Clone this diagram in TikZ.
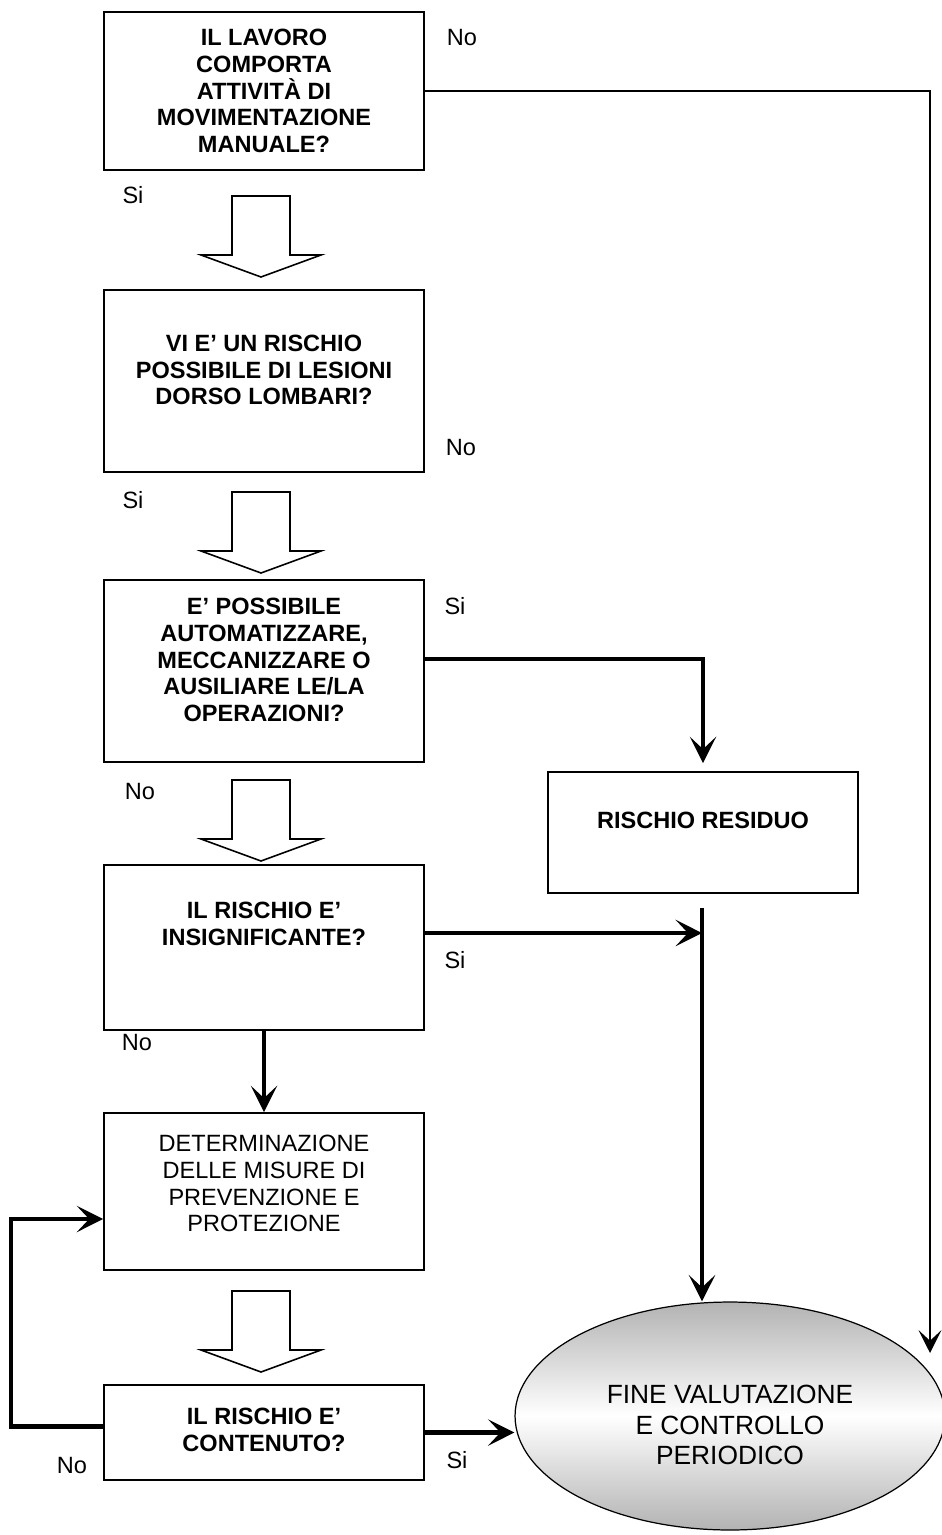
\documentclass[tikz,border=0pt]{standalone}
\usepackage{fontspec}
\setmainfont{Liberation Sans}
\usetikzlibrary{arrows.meta,shapes.geometric}

\tikzset{
	box/.style={draw, line width=1pt, minimum width=6.4cm, inner sep=0pt},
	qtext/.style={align=center, font=\fontsize{13.4}{15.3}\selectfont\bfseries},
	ptext/.style={align=center, font=\fontsize{13.4}{15.3}\selectfont},
	answer/.style={font=\fontsize{13.4}{15.3}\selectfont},
	flow/.style={line width=2.6pt, -{Stealth[length=15pt,width=15pt,inset=7pt]}},
	thinflow/.style={line width=1.3pt, -{Stealth[length=13pt,width=13pt,inset=6pt]}},
	blockarrow/.pic={
		\draw[line width=0.9pt, fill=white] (-29,0) -- (29,0) -- (29,59) -- (60,59)
			-- (0,81) -- (-60,59) -- (-29,59) -- cycle;
	}
}

\begin{document}
\begin{tikzpicture}[x=0.02cm, y=-0.02cm]
	\useasboundingbox (0,0) rectangle (942,1535);

	% domande
	\node[box, minimum height=3.16cm] (lavoro) at (264,91) {};
	\node[qtext] (lavoro-txt) at (lavoro.center) {IL LAVORO\\COMPORTA\\ATTIVITÀ DI\\MOVIMENTAZIONE\\MANUALE?};

	\node[box, minimum height=3.64cm] (lesioni) at (264,381) {};
	\node[qtext] (lesioni-txt) at ([yshift=0.22cm]lesioni.center) {VI E’ UN RISCHIO\\POSSIBILE DI LESIONI\\DORSO LOMBARI?};

	\node[box, minimum height=3.64cm] (automatizzare) at (264,671) {};
	\node[qtext] (automatizzare-txt) at ([yshift=0.22cm]automatizzare.center) {E’ POSSIBILE\\AUTOMATIZZARE,\\MECCANIZZARE O\\AUSILIARE LE/LA\\OPERAZIONI?};

	\node[box, minimum width=6.2cm, minimum height=2.42cm] (residuo) at (703,832.5) {};
	\node[qtext] (residuo-txt) at ([yshift=0.25cm]residuo.center) {RISCHIO RESIDUO};

	\node[box, minimum height=3.3cm] (insignificante) at (264,947.5) {};
	\node[qtext] (insignificante-txt) at ([yshift=0.48cm]insignificante.center) {IL RISCHIO E’\\INSIGNIFICANTE?};

	\node[box, minimum height=3.14cm] (misure) at (264,1191.5) {};
	\node[ptext] (misure-txt) at ([yshift=0.16cm]misure.center) {DETERMINAZIONE\\DELLE MISURE DI\\PREVENZIONE E\\PROTEZIONE};

	\node[box, minimum height=1.9cm] (contenuto) at (264,1432.5) {};
	\node[qtext] (contenuto-txt) at ([yshift=0.05cm]contenuto.center) {IL RISCHIO E’\\CONTENUTO?};

	\node[ellipse, draw, line width=0.7pt, minimum width=8.6cm, minimum height=4.56cm, inner sep=0pt,
		top color=gray!60, bottom color=gray!60, middle color=white] (fine) at (730,1416) {};
	\node[align=center, font=\fontsize{15}{17.3}\selectfont] (fine-txt) at ([yshift=-0.18cm]fine.center) {FINE VALUTAZIONE\\E CONTROLLO\\PERIODICO};

	% frecce vuote
	\pic at (261,196) {blockarrow};
	\pic at (261,492) {blockarrow};
	\pic at (261,780) {blockarrow};
	\pic at (261,1291) {blockarrow};

	% risposte
	\node[answer] (no1) at (462,38) {No};
	\node[answer] (si1) at (133,195) {Si};
	\node[answer] (no2) at (461,448) {No};
	\node[answer] (si2) at (133,500) {Si};
	\node[answer] (si3) at (455,606) {Si};
	\node[answer] (no3) at (140,792) {No};
	\node[answer] (si4) at (455,960) {Si};
	\node[answer] (no4) at (137,1043) {No};
	\node[answer] (no5) at (72,1465) {No};
	\node[answer] (si5) at (457,1460) {Si};

	% collegamenti
	\coordinate (no-fine) at (930,1353);
	\draw[thinflow] (lavoro.east) -- (lavoro.east -| no-fine) -- (no-fine);

	\draw[flow, shorten >=0.16cm] ([yshift=0.24cm]automatizzare.east) -| (residuo.north);

	\coordinate (merge) at (702,908);
	\draw[flow] (merge) -- (merge |- fine.north);
	\coordinate (si-ins) at ([yshift=0.29cm]insignificante.east);
	\draw[flow] (si-ins) -- (si-ins -| merge);

	\draw[flow] (insignificante.south) -- (misure.north);
	\draw[flow] ([yshift=0.12cm]contenuto.west) -- ++(-92,0) |- ([yshift=-0.55cm]misure.west);
	\draw[flow] (contenuto.east) -- (contenuto.east -| fine.west);
\end{tikzpicture}
\end{document}
